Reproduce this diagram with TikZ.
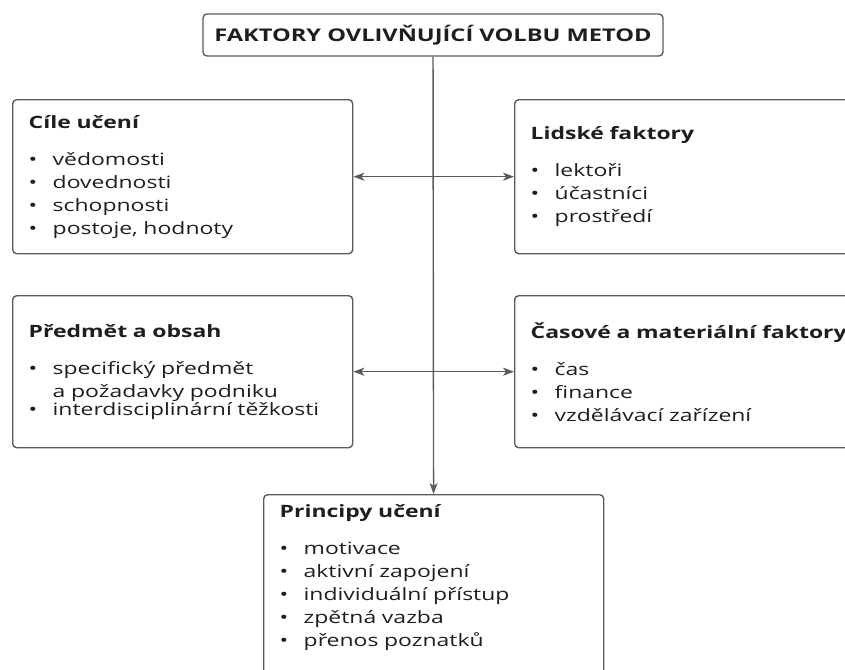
\documentclass[tikz,border=0pt]{standalone}
\usepackage{fontspec}
\setmainfont{Open Sans}[FakeStretch=1.35]
\usepackage{tikz}
\usetikzlibrary{arrows.meta}

\definecolor{linegray}{HTML}{5A5A5A}
\definecolor{inkgray}{HTML}{1E1E1E}

\newcommand{\boxhead}[1]{\mbox{\bfseries #1}\par\vspace{14pt}}
\newcommand{\bul}[1]{\par\noindent\makebox[24pt][l]{\textbullet}\parbox[t]{280pt}{#1}}

\begin{document}
\begin{tikzpicture}[x=1pt,y=-1pt,>={Stealth[length=11pt,width=8pt,inset=3pt]},
    box/.style={draw=linegray, line width=1.4pt, rounded corners=4pt, anchor=north west,
      align=left, text width=308pt, inner xsep=16pt, inner ysep=0pt, text=inkgray,
      font=\fontsize{17}{23}\selectfont},
    conn/.style={draw=linegray, line width=1.4pt}]
  \useasboundingbox (0,0) rectangle (845,669);
  \clip (0,0) rectangle (845,669);

  % title
  \node[draw=linegray, line width=1.4pt, rounded corners=4pt, minimum width=460pt,
    minimum height=42pt, text=inkgray, font=\fontsize{17.5}{20}\selectfont\bfseries]
    (title) at (433,35) {FAKTORY OVLIVŇUJÍCÍ VOLBU METOD};

  % the four factors
  \node[box, minimum height=154pt] (cile) at (12,99) {\boxhead{Cíle učení}%
    \bul{vědomosti}\bul{dovednosti}\bul{schopnosti}\bul{postoje, hodnoty}};
  \node[box, minimum height=154pt] (lidske) at (514,99) {\boxhead{Lidské faktory}%
    \bul{lektoři}\bul{účastníci}\bul{prostředí}};
  \node[box, minimum height=152pt] (predmet) at (12,295) {\boxhead{Předmět a obsah}%
    \bul{specifický předmět\\ a požadavky podniku}\bul{interdisciplinární těžkosti}};
  \node[box, minimum height=152pt] (casove) at (514,295) {\boxhead{Časové a materiální faktory}%
    \bul{čas}\bul{finance}\bul{vzdělávací zařízení}};

  % principles, runs off the bottom
  \node[box, inner ysep=10pt] (principy) at (263,494) {\boxhead{Principy učení}%
    \bul{motivace}\bul{aktivní zapojení}\bul{individuální přístup}\bul{zpětná vazba}%
    \bul{přenos poznatků}\par\vspace{40pt}};

  \draw[conn,->] (title) -- (principy);
  \draw[conn,<->] (cile) -- (lidske);
  \draw[conn,<->] (predmet) -- (casove);
\end{tikzpicture}
\end{document}
